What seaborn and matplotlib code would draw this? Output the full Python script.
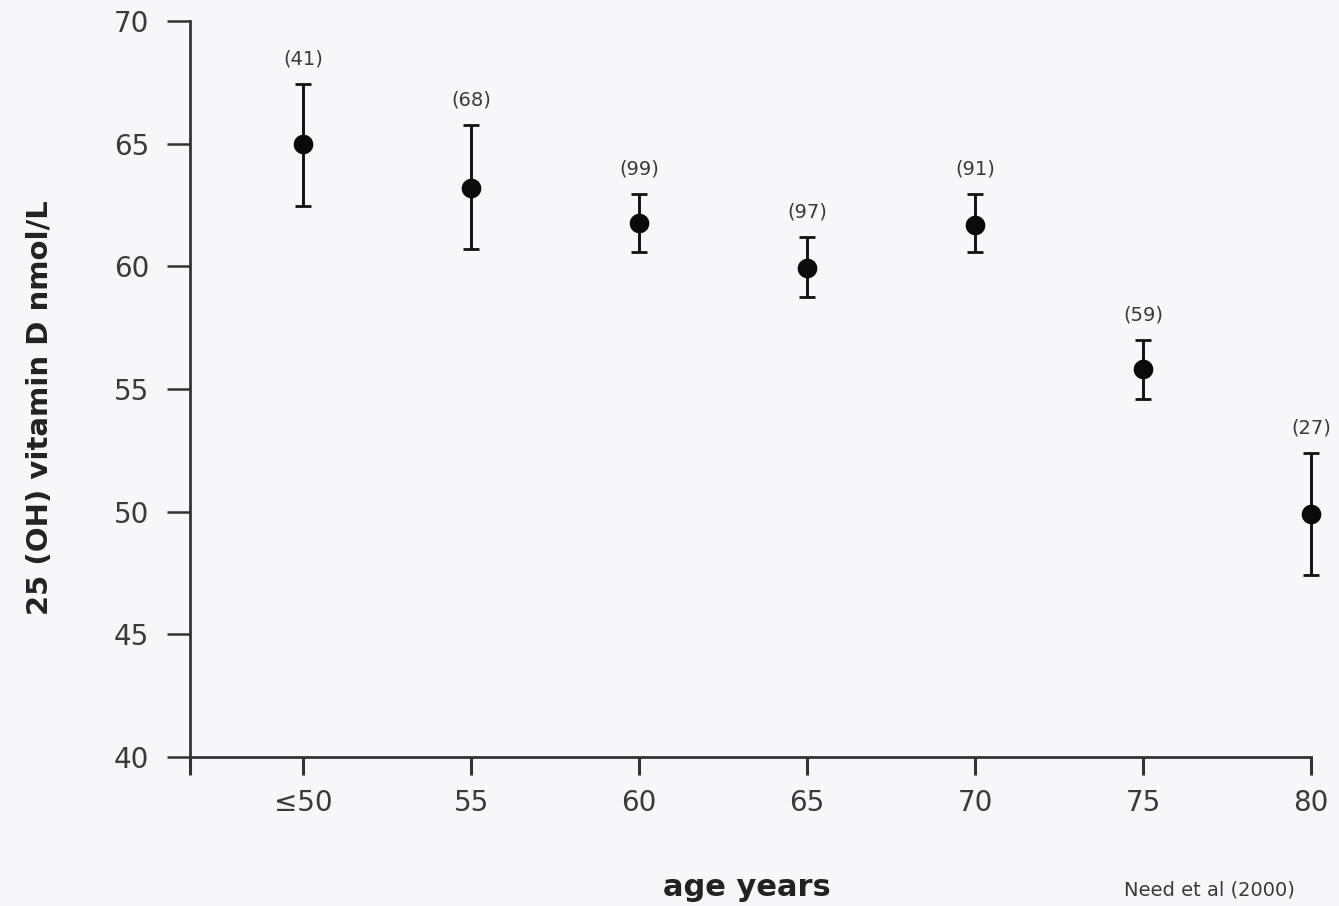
import matplotlib
matplotlib.use("Agg")
import matplotlib.pyplot as plt
import seaborn as sns
import pandas as pd

# ---- data ----
age_labels = ["≤50", "55", "60", "65", "70", "75", "80"]
age_pos = [50, 55, 60, 65, 70, 75, 80]
mean_vitd = [65.0, 63.2, 61.75, 59.95, 61.7, 55.8, 49.9]
upper_vitd = [67.45, 65.75, 62.95, 61.2, 62.95, 57.0, 52.4]
lower_vitd = [62.45, 60.7, 60.6, 58.75, 60.6, 54.6, 47.4]
n_counts = ["(41)", "(68)", "(99)", "(97)", "(91)", "(59)", "(27)"]
y_ticks = [40, 45, 50, 55, 60, 65, 70]

df = pd.DataFrame({"age": age_pos, "vitd": mean_vitd,
                   "hi": upper_vitd, "lo": lower_vitd, "n": n_counts})

sns.set_theme(style="ticks")
plt.rcParams["font.family"] = ["DejaVu Sans"]

bg = "#f7f7f9"
ink = "#333333"
txt = "#3a3a3a"

fig = plt.figure(figsize=(13.39, 9.06), dpi=100, facecolor=bg)
ax = fig.add_axes([190/1339, 1-757/906, (1311-190)/1339, (757-21)/906])
ax.set_facecolor(bg)

err_lo = df["vitd"] - df["lo"]
err_hi = df["hi"] - df["vitd"]
ax.errorbar(df["age"], df["vitd"], yerr=[err_lo, err_hi], fmt="none",
            ecolor="#111111", elinewidth=2.1, capsize=6, capthick=2.0,
            clip_on=False, zorder=2)
sns.scatterplot(data=df, x="age", y="vitd", ax=ax, s=200, color="#0a0a0a",
                edgecolor="#0a0a0a", linewidth=0, zorder=3, clip_on=False)

for x, top, lab in zip(df["age"], df["hi"], df["n"]):
    ax.annotate(lab, (x, top), xytext=(0, 18), textcoords="offset points",
                ha="center", va="center", fontsize=14, color=txt)

xleft = 50 - 113/168*5
ax.set_xlim(xleft, 80)
ax.set_ylim(40, 70)
ax.set_xticks([xleft] + age_pos)
ax.set_xticklabels([""] + age_labels)
ax.set_yticks(y_ticks)
ax.set_yticklabels([str(t) for t in y_ticks])
ax.set_xlabel("")
ax.set_ylabel("")

for s in ["top", "right"]:
    ax.spines[s].set_visible(False)
for s in ["left", "bottom"]:
    ax.spines[s].set_color(ink)
    ax.spines[s].set_linewidth(2.0)

ax.tick_params(axis="y", direction="out", length=16.5, width=1.8,
               color=ink, labelsize=20, labelcolor=txt, pad=13)
ax.tick_params(axis="x", direction="out", length=13, width=2.2,
               color=ink, labelsize=20, labelcolor=txt, pad=10)

fig.text(40/1339, 1-408/906, "25 (OH) vitamin D nmol/L", rotation=90,
         ha="center", va="center", fontsize=21, fontweight="bold", color="#222222")
fig.text(747/1339, 1-888/906, "age years", ha="center", va="center",
         fontsize=22, fontweight="bold", color="#222222")
fig.text(1209/1339, 1-890/906, "Need et al (2000)", ha="center", va="center",
         fontsize=14, color=txt)

fig.savefig("out.png", dpi=100, facecolor=bg)
